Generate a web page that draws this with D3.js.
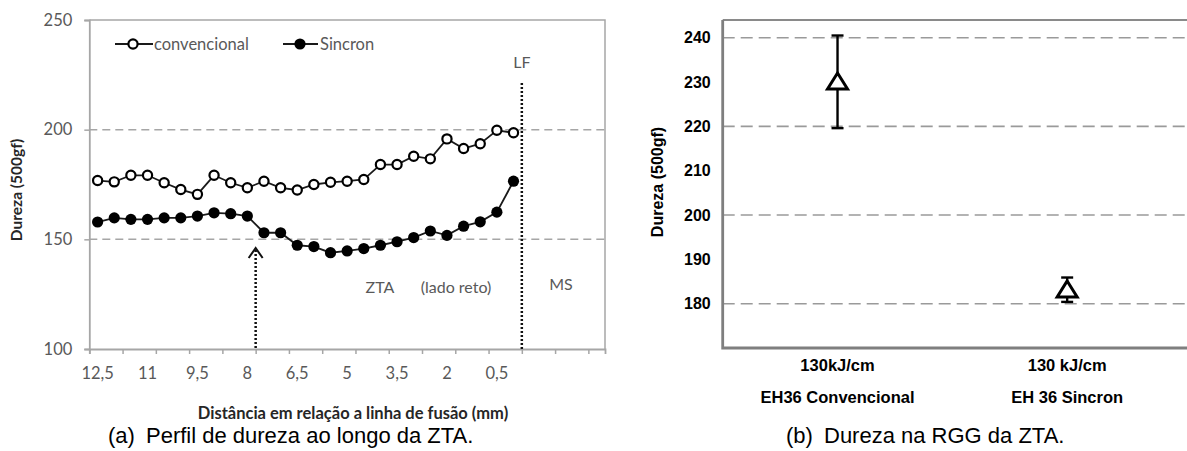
<!DOCTYPE html>
<html>
<head>
<meta charset="utf-8">
<script src="https://cdn.jsdelivr.net/npm/d3@7"></script>
<style>
  html, body { margin: 0; padding: 0; background: #fff; }
  svg { display: block; }
</style>
</head>
<body>
<div id="chart"></div>
<script>
// left chart: hardness profile across the HAZ
const distances = [12.5, 12, 11.5, 11, 10.5, 10, 9.5, 9, 8.5, 8, 7.5, 7, 6.5, 6, 5.5, 5, 4.5, 4, 3.5, 3, 2.5, 2, 1.5, 1, 0.5, 0];
const convencional = [176.8, 176.2, 179.2, 179.2, 175.8, 172.7, 170.5, 179.2, 175.8, 173.5, 176.5, 173.5, 172.5, 175, 176, 176.5, 177.3, 184.1, 184.1, 187.9, 186.7, 195.8, 191.4, 193.6, 199.7, 198.6];
const sincron = [157.9, 159.8, 159.1, 159.1, 159.8, 159.8, 160.6, 162.1, 161.7, 160.6, 153, 153, 147.3, 146.7, 143.9, 144.7, 145.8, 147.3, 148.9, 150.8, 153.8, 151.8, 156, 158, 162.4, 176.5];
const xTickLabels = ["12,5", "11", "9,5", "8", "6,5", "5", "3,5", "2", "0,5"];
const yTicksLeft = [100, 150, 200, 250];
const gridLeft = [150, 200];
const emptySlots = 5;          // categories after the fusion line (MS side), no data
const arrowAt = 8;             // dotted arrow line (boundary after 8 mm)
const lfAt = 0;                // fusion line (boundary after 0 mm)

// right chart: hardness in the coarse grain region
const groups = ["EH36 Convencional", "EH 36 Sincron"];
const heatInput = ["130kJ/cm", "130 kJ/cm"];
const meanHardness = [230, 183.1];
const errHigh = [240.5, 185.9];
const errLow = [219.6, 180.4];
const yTicksRight = [180, 190, 200, 210, 220, 230, 240];
const gridRight = [180, 200, 220, 240];

const W = 1187, H = 451;
const svg = d3.select("#chart").append("svg").attr("width", W).attr("height", H);

const gray = "#595959";
const leftFont = "Lato, 'Open Sans', sans-serif";
const arial = "'Liberation Sans', Arial, sans-serif";

// ---------- left chart ----------
const L = { left: 89.3, right: 605, top: 20, bottom: 349 };
const nSlots = distances.length + emptySlots;
const xL = d3.scaleLinear().domain([0, nSlots]).range([L.left, L.right]);
const yL = d3.scaleLinear().domain([100, 250]).range([L.bottom, L.top]);
const cx = i => xL(i + 0.5);

const gL = svg.append("g");

gL.selectAll("line.grid")
  .data(gridLeft)
  .enter()
  .append("line")
  .attr("class", "grid")
  .attr("x1", L.left).attr("x2", L.right)
  .attr("y1", d => yL(d)).attr("y2", d => yL(d))
  .attr("stroke", "#a6a6a6")
  .attr("stroke-width", 1.5)
  .attr("stroke-dasharray", "8,5");

// frame
gL.append("path")
  .attr("d", `M${L.left},${L.top}H${L.right}V${L.bottom}`)
  .attr("fill", "none")
  .attr("stroke", "#a6a6a6")
  .attr("stroke-width", 1.5);

const yAxisL = d3.axisLeft(yL).tickValues(yTicksLeft).tickSize(5).tickPadding(12);
gL.append("g")
  .attr("transform", `translate(${L.left},0)`)
  .call(yAxisL)
  .call(g => g.select(".domain").attr("stroke", "#a6a6a6").attr("stroke-width", 1.8))
  .call(g => g.selectAll(".tick line").attr("stroke", "#a6a6a6").attr("stroke-width", 1.5))
  .call(g => g.selectAll("text").attr("fill", gray).style("font", `16.5px ${leftFont}`));

const xAxisL = d3.axisBottom(xL).tickValues(d3.range(0, nSlots, 2)).tickSize(5).tickFormat("");
gL.append("g")
  .attr("transform", `translate(0,${L.bottom})`)
  .call(xAxisL)
  .call(g => g.select(".domain").attr("stroke", "#a6a6a6").attr("stroke-width", 1.8))
  .call(g => g.selectAll(".tick line").attr("stroke", "#a6a6a6").attr("stroke-width", 1.5));

const labelIndex = s => distances.indexOf(parseFloat(s.replace(",", ".")));
gL.selectAll("text.xlab")
  .data(xTickLabels)
  .enter()
  .append("text")
  .attr("class", "xlab")
  .attr("x", d => cx(labelIndex(d)))
  .attr("y", 379)
  .attr("text-anchor", "middle")
  .attr("fill", gray)
  .style("font", `16.5px ${leftFont}`)
  .text(d => d);

// dotted reference lines
const boundary = d => xL(distances.indexOf(d) + 1);
gL.append("line")
  .attr("x1", boundary(lfAt)).attr("x2", boundary(lfAt))
  .attr("y1", 83).attr("y2", L.bottom)
  .attr("stroke", "#111").attr("stroke-width", 2.5)
  .attr("stroke-dasharray", "2,2");
gL.append("line")
  .attr("x1", boundary(arrowAt)).attr("x2", boundary(arrowAt))
  .attr("y1", 250).attr("y2", L.bottom)
  .attr("stroke", "#111").attr("stroke-width", 2.5)
  .attr("stroke-dasharray", "2,2");
gL.append("path")
  .attr("d", `M${boundary(arrowAt) - 7},${258}L${boundary(arrowAt)},${248}L${boundary(arrowAt) + 7},${258}`)
  .attr("fill", "none").attr("stroke", "#111").attr("stroke-width", 2);

// series
const line = d3.line().x((d, i) => cx(i)).y(d => yL(d));
gL.append("path").datum(convencional)
  .attr("d", line).attr("fill", "none").attr("stroke", "#1a1a1a").attr("stroke-width", 1.8);
gL.append("path").datum(sincron)
  .attr("d", line).attr("fill", "none").attr("stroke", "#1a1a1a").attr("stroke-width", 1.8);

gL.selectAll("circle.conv")
  .data(convencional)
  .enter()
  .append("circle")
  .attr("class", "conv")
  .attr("cx", (d, i) => cx(i)).attr("cy", d => yL(d))
  .attr("r", 4.6)
  .attr("fill", "#fff").attr("stroke", "#000").attr("stroke-width", 2.2);

gL.selectAll("circle.sinc")
  .data(sincron)
  .enter()
  .append("circle")
  .attr("class", "sinc")
  .attr("cx", (d, i) => cx(i)).attr("cy", d => yL(d))
  .attr("r", 5.6)
  .attr("fill", "#000");

// legend
const leg = gL.append("g");
leg.append("line").attr("x1", 115).attr("x2", 153).attr("y1", 44).attr("y2", 44).attr("stroke", "#1a1a1a").attr("stroke-width", 1.8);
leg.append("circle").attr("cx", 133).attr("cy", 44).attr("r", 4.6).attr("fill", "#fff").attr("stroke", "#000").attr("stroke-width", 2.2);
leg.append("text").attr("x", 154).attr("y", 50).attr("fill", gray).style("font", `16.5px ${leftFont}`).text("convencional");
leg.append("line").attr("x1", 283).attr("x2", 318).attr("y1", 44).attr("y2", 44).attr("stroke", "#1a1a1a").attr("stroke-width", 1.8);
leg.append("circle").attr("cx", 300).attr("cy", 44).attr("r", 5.6).attr("fill", "#000");
leg.append("text").attr("x", 320).attr("y", 50).attr("fill", gray).style("font", `16.5px ${leftFont}`).text("Sincron");

// region notes
const note = (x, y, t) => gL.append("text").attr("x", x).attr("y", y).attr("text-anchor", "middle")
  .attr("fill", gray).style("font", `16px ${leftFont}`).text(t);
note(boundary(lfAt), 68, "LF");
note(380, 293, "ZTA");
note(456, 293, "(lado reto)");
note(561, 290, "MS");

gL.append("text")
  .attr("transform", "translate(22,190) rotate(-90)")
  .attr("text-anchor", "middle")
  .attr("fill", "#262626")
  .style("font", `bold 15.5px ${leftFont}`)
  .text("Dureza (500gf)");

gL.append("text")
  .attr("x", 353).attr("y", 419)
  .attr("text-anchor", "middle")
  .attr("fill", "#262626")
  .style("font", `bold 16.5px ${leftFont}`)
  .text("Distância em relação a linha de fusão (mm)");

svg.append("text")
  .attr("x", 108).attr("y", 443)
  .style("font", `22px ${arial}`)
  .attr("fill", "#000")
  .text("(a)");
svg.append("text")
  .attr("x", 146).attr("y", 443)
  .style("font", `22px ${arial}`)
  .attr("fill", "#000")
  .text("Perfil de dureza ao longo da ZTA.");

// ---------- right chart ----------
const R = { left: 722.7, right: 1182, top: 20, bottom: 348 };
const xR = d3.scaleBand().domain(groups).range([R.left, R.right]);
const yR = d3.scaleLinear().domain([170, 244]).range([R.bottom, R.top]);
const gR = svg.append("g");

gR.selectAll("line.grid")
  .data(gridRight)
  .enter()
  .append("line")
  .attr("class", "grid")
  .attr("x1", R.left).attr("x2", W)
  .attr("y1", d => yR(d)).attr("y2", d => yR(d))
  .attr("stroke", "#9a9a9a")
  .attr("stroke-width", 1.6)
  .attr("stroke-dasharray", "12,6");

gR.append("line")
  .attr("x1", R.left).attr("x2", W)
  .attr("y1", R.top).attr("y2", R.top)
  .attr("stroke", "#8a8a8a").attr("stroke-width", 2.2);

const yAxisR = d3.axisLeft(yR).tickValues(yTicksRight).tickSize(0).tickPadding(12);
gR.append("g")
  .attr("transform", `translate(${R.left},0)`)
  .call(yAxisR)
  .call(g => g.select(".domain").remove())
  .call(g => g.selectAll("text").attr("fill", "#000").style("font", `bold 16px ${arial}`));

gR.append("path")
  .attr("d", `M${R.left},${R.top}V${R.bottom}H${W}`)
  .attr("fill", "none")
  .attr("stroke", "#7f7f7f")
  .attr("stroke-width", 2.8);

const bx = d => xR(d) + xR.bandwidth() / 2;

gR.selectAll("text.heat")
  .data(groups)
  .enter()
  .append("text")
  .attr("class", "heat")
  .attr("x", d => bx(d)).attr("y", 371)
  .attr("text-anchor", "middle")
  .style("font", `bold 16.5px ${arial}`)
  .text((d, i) => heatInput[i]);

gR.selectAll("text.grp")
  .data(groups)
  .enter()
  .append("text")
  .attr("class", "grp")
  .attr("x", d => bx(d)).attr("y", 403)
  .attr("text-anchor", "middle")
  .style("font", `bold 16.5px ${arial}`)
  .text(d => d);

// error bars
const eb = gR.selectAll("g.eb")
  .data(groups)
  .enter()
  .append("g")
  .attr("class", "eb");
eb.append("line")
  .attr("x1", d => bx(d)).attr("x2", d => bx(d))
  .attr("y1", (d, i) => yR(errHigh[i])).attr("y2", (d, i) => yR(errLow[i]))
  .attr("stroke", "#000").attr("stroke-width", 2.4);
eb.append("line")
  .attr("x1", d => bx(d) - 6).attr("x2", d => bx(d) + 6)
  .attr("y1", (d, i) => yR(errHigh[i])).attr("y2", (d, i) => yR(errHigh[i]))
  .attr("stroke", "#000").attr("stroke-width", 2.4);
eb.append("line")
  .attr("x1", d => bx(d) - 6).attr("x2", d => bx(d) + 6)
  .attr("y1", (d, i) => yR(errLow[i])).attr("y2", (d, i) => yR(errLow[i]))
  .attr("stroke", "#000").attr("stroke-width", 2.4);
eb.append("path")
  .attr("transform", (d, i) => `translate(${bx(d)},${yR(meanHardness[i])})`)
  .attr("d", "M0,-9L10,7L-10,7Z")
  .attr("fill", "#fff").attr("stroke", "#000").attr("stroke-width", 3)
  .attr("stroke-linejoin", "miter");

gR.append("text")
  .attr("transform", "translate(663,182) rotate(-90)")
  .attr("text-anchor", "middle")
  .style("font", `bold 16px ${arial}`)
  .text("Dureza (500gf)");

svg.append("text")
  .attr("x", 786).attr("y", 443)
  .style("font", `22px ${arial}`)
  .text("(b)");
svg.append("text")
  .attr("x", 824).attr("y", 443)
  .style("font", `22px ${arial}`)
  .text("Dureza na RGG da ZTA.");
</script>
</body>
</html>
